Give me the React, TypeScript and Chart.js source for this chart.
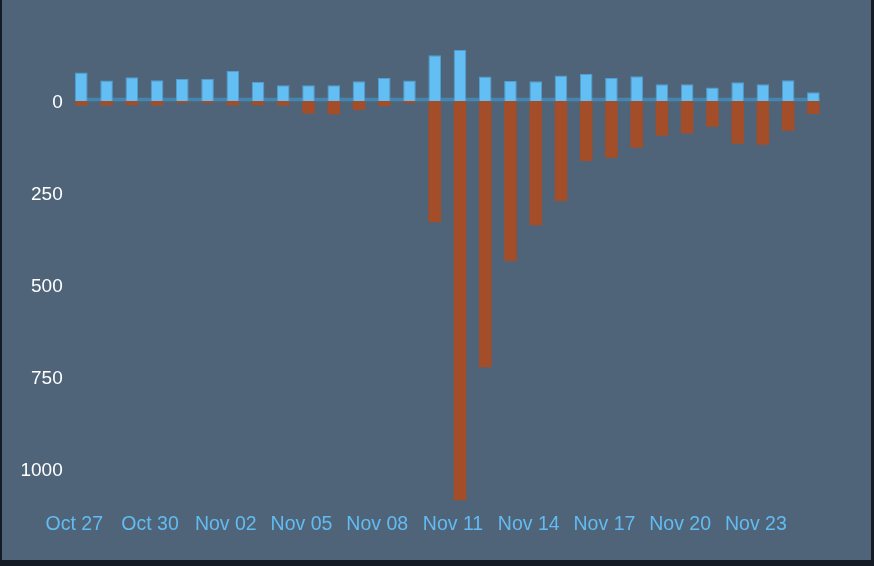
import { useEffect, useRef } from "react";
import { Chart, registerables } from "chart.js";

Chart.register(...registerables);

const days = [
  "Oct 27", "Oct 28", "Oct 29", "Oct 30", "Oct 31", "Nov 01", "Nov 02", "Nov 03", "Nov 04", "Nov 05",
  "Nov 06", "Nov 07", "Nov 08", "Nov 09", "Nov 10", "Nov 11", "Nov 12", "Nov 13", "Nov 14", "Nov 15",
  "Nov 16", "Nov 17", "Nov 18", "Nov 19", "Nov 20", "Nov 21", "Nov 22", "Nov 23", "Nov 24", "Nov 25",
];

// bars above the zero line
const upValues = [
  78, 56, 65, 57, 60, 60, 82, 52, 43, 43,
  43, 54, 63, 56, 125, 139, 67, 55, 54, 70,
  74, 63, 68, 46, 46, 37, 51, 46, 57, 24,
];

// bars below the zero line (stored as negatives)
const downValues = [
  -12, -12, -11, -12, -5, -5, -12, -11, -12, -34,
  -36, -24, -13, -6, -330, -1087, -724, -435, -338, -272,
  -163, -154, -127, -94, -88, -70, -116, -119, -81, -35,
];

const yTicks = [-1000, -750, -500, -250, 0];

const FONT = '"Liberation Sans", Arial, Helvetica, sans-serif';

const zeroLine = {
  id: "zeroLine",
  beforeDatasetsDraw(chart: any) {
    const meta = chart.getDatasetMeta(0);
    const first = meta.data[0];
    const last = meta.data[meta.data.length - 1];
    if (!first || !last) return;
    const y = chart.scales.y.getPixelForValue(0) - 1.5;
    const ctx = chart.ctx;
    ctx.save();
    ctx.strokeStyle = "#4486b0";
    ctx.lineWidth = 3.5;
    ctx.beginPath();
    ctx.moveTo(first.x - first.width / 2, y);
    ctx.lineTo(last.x + last.width / 2, y);
    ctx.stroke();
    ctx.restore();
  },
};

export default function App() {
  const canvasRef = useRef<HTMLCanvasElement | null>(null);

  useEffect(() => {
    if (!canvasRef.current) return;
    const chart = new Chart(canvasRef.current, {
      type: "bar",
      data: {
        labels: days,
        datasets: [
          {
            data: upValues,
            backgroundColor: "#63bef4",
            borderColor: "#4f9fd3",
            borderWidth: 1,
            barPercentage: 0.5,
            categoryPercentage: 1,
          },
          {
            data: downValues,
            backgroundColor: "#a34e28",
            borderWidth: 0,
            barPercentage: 0.5,
            categoryPercentage: 1,
          },
        ],
      },
      options: {
        responsive: true,
        maintainAspectRatio: false,
        animation: false,
        layout: { padding: { top: 46, right: 45, left: 0, bottom: 0 } },
        plugins: { legend: { display: false }, tooltip: { enabled: false } },
        scales: {
          x: {
            stacked: true,
            grid: { display: false, drawTicks: false },
            border: { display: false },
            afterFit: (scale: any) => {
              scale.height = 59.5;
            },
            ticks: {
              autoSkip: false,
              maxRotation: 0,
              padding: 12,
              labelOffset: -7,
              color: "#62bcf2",
              font: { family: FONT, size: 19.5 },
              callback: (_v: any, i: number) => (i % 3 === 0 ? days[i] : ""),
            },
          },
          y: {
            stacked: true,
            min: -1087,
            max: 150,
            grid: { display: false, drawTicks: false },
            border: { display: false },
            afterBuildTicks: (scale: any) => {
              scale.ticks = yTicks.map((v) => ({ value: v }));
            },
            afterFit: (scale: any) => {
              scale.width = 66.7;
            },
            ticks: {
              padding: 6,
              labelOffset: 2,
              color: "#ffffff",
              font: { family: FONT, size: 19 },
              callback: (v: any) => String(Math.abs(Number(v))),
            },
          },
        },
      },
      plugins: [zeroLine],
    });
    return () => chart.destroy();
  }, []);

  return (
    <div style={{ position: "fixed", inset: 0, background: "#151b24" }}>
      <div
        style={{
          position: "absolute",
          left: 2,
          top: 0,
          width: 869,
          height: 560,
          background: "#4f6479",
        }}
      >
        <canvas ref={canvasRef} />
      </div>
    </div>
  );
}
